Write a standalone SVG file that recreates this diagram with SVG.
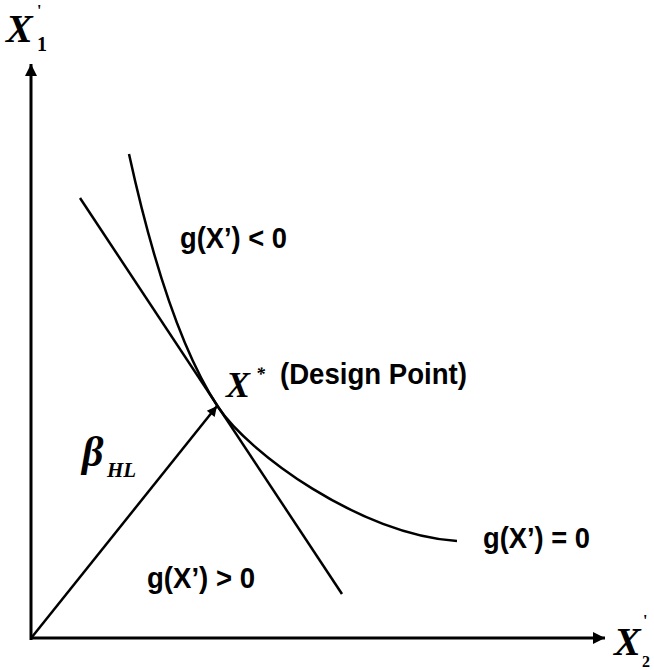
<svg xmlns="http://www.w3.org/2000/svg" width="654" height="670" viewBox="0 0 654 670">
<style>
.ax{stroke:#000;stroke-width:3;fill:none}
.ln{stroke:#000;stroke-width:2.5;fill:none}
.lbl{font-family:"Liberation Sans",Arial,sans-serif;font-weight:bold;font-size:29px;fill:#000}
.math{font-family:"Liberation Serif","Times New Roman",serif;font-style:italic;font-weight:bold;fill:#000}
.sub{font-family:"Liberation Serif","Times New Roman",serif;font-weight:bold;fill:#000}
</style>
<defs>
<marker id="ah" viewBox="0 0 10 10" refX="10" refY="5" markerWidth="5" markerHeight="4" markerUnits="strokeWidth" orient="auto">
<path d="M0,0 L10,5 L0,10 z" fill="#000"/>
</marker>
<marker id="ah2" viewBox="0 0 10 10" refX="10" refY="5" markerWidth="5" markerHeight="4" markerUnits="strokeWidth" orient="auto">
<path d="M0,0 L10,5 L0,10 z" fill="#000"/>
</marker>
</defs>
<g id="connectors">
<line id="y-axis" class="ax" x1="31" y1="640" x2="31" y2="64" marker-end="url(#ah)"/>
<line id="x-axis" class="ax" x1="30" y1="638" x2="605" y2="638" marker-end="url(#ah)"/>
<line id="beta-vector" class="ln" x1="32" y1="637" x2="217" y2="406" marker-end="url(#ah2)"/>
<line id="tangent" class="ln" x1="80" y1="198" x2="342" y2="594"/>
<path id="limit-curve" class="ln" d="M129,154 C150,250 178,346 218,407 C248,452 360,535 457,541"/>
</g>
<g id="label-x1">
<text class="math" x="6" y="42" font-size="40">X</text>
<text class="sub" x="37" y="16" font-size="16">'</text>
<text class="sub" x="37" y="51" font-size="20">1</text>
</g>
<g id="label-x2">
<text class="math" x="614" y="655" font-size="40">X</text>
<text class="sub" x="643" y="626" font-size="16">'</text>
<text class="sub" x="642" y="667" font-size="16">2</text>
</g>
<g id="label-unsafe"><text class="lbl" x="180" y="248" textLength="107" lengthAdjust="spacingAndGlyphs">g(X’) &lt; 0</text></g>
<g id="label-design">
<text class="math" x="226" y="397" font-size="36">X</text>
<text class="math" x="256" y="380" font-size="18">*</text>
<text class="lbl" x="280" y="384" textLength="187" lengthAdjust="spacingAndGlyphs">(Design Point)</text>
</g>
<g id="label-beta">
<text class="math" x="82" y="466" font-size="42">β</text>
<text class="math" x="107" y="477" font-size="21">HL</text>
</g>
<g id="label-limit"><text class="lbl" x="483" y="548" textLength="107" lengthAdjust="spacingAndGlyphs">g(X’) = 0</text></g>
<g id="label-safe"><text class="lbl" x="147" y="588" textLength="108" lengthAdjust="spacingAndGlyphs">g(X’) &gt; 0</text></g>
</svg>
